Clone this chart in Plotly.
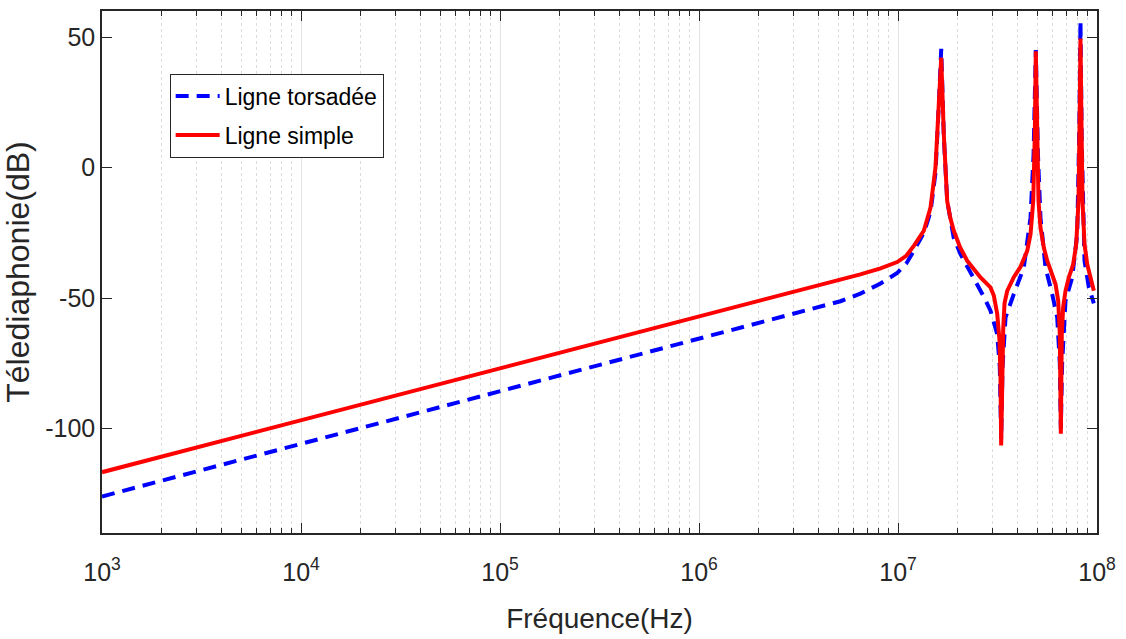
import plotly.graph_objects as go

# Ligne simple (red, solid)
freq_simple = [1e3, 1e4, 1e5, 1e6, 2.57e6, 4.08e6, 5.14e6, 6.47e6, 8.17e6, 9.91e6,
               1.10e7, 1.201e7, 1.348e7, 1.457e7, 1.543e7, 1.603e7, 1.649e7, 1.699e7, 1.767e7,
               1.835e7, 1.907e7, 2.05e7, 2.227e7, 2.598e7, 2.916e7, 3.030e7, 3.151e7, 3.236e7,
               3.273e7, 3.300e7, 3.339e7, 3.378e7, 3.430e7, 3.539e7, 3.818e7, 4.127e7,
               4.459e7, 4.634e7, 4.781e7, 4.870e7, 4.926e7, 4.984e7, 5.082e7, 5.20e7,
               5.405e7, 5.62e7, 5.955e7, 6.187e7, 6.383e7, 6.503e7, 6.58e7, 6.655e7, 6.76e7,
               6.946e7, 7.217e7, 7.594e7, 7.862e7, 8.074e7, 8.20e7, 8.26e7, 8.330e7,
               8.456e7, 8.655e7, 8.93e7, 9.276e7, 9.64e7]
db_simple = [-116.7, -96.9, -76.9, -57.1, -48.9, -44.9, -42.9, -40.9, -38.6, -36.2,
             -33.8, -30.0, -24.2, -15.3, 0.0, 25.5, 42.1, 12.7, -12.8,
             -19.5, -24.2, -30.5, -35.7, -42.1, -45.9, -49.0, -56.0, -66.0,
             -80.0, -106.5, -78.0, -62.0, -52.0, -47.2, -42.0, -38.0,
             -31.9, -25.5, -12.8, 12.7, 44.6, 12.7, -12.8, -23.0,
             -30.6, -35.7, -40.8, -44.6, -51.0, -63.8, -102.0, -63.8, -53.6,
             -47.2, -42.1, -37.0, -29.4, -12.8, 25.5, 49.5, 25.5,
             -12.8, -29.4, -37.0, -42.1, -47.2]

# Ligne torsadée (blue, dashed)
freq_torsadee = [1e3, 1e4, 1e5, 1e6, 2.57e6, 4.08e6, 5.14e6, 6.47e6, 8.17e6, 9.91e6,
                 1.10e7, 1.201e7, 1.348e7, 1.457e7, 1.543e7, 1.603e7, 1.649e7, 1.699e7, 1.767e7,
                 1.907e7, 2.061e7, 2.269e7, 2.500e7, 2.700e7, 2.916e7, 3.151e7, 3.248e7,
                 3.300e7, 3.351e7, 3.470e7, 3.818e7, 4.287e7, 4.634e7, 4.800e7, 4.926e7,
                 5.050e7, 5.20e7, 5.512e7, 5.955e7, 6.310e7, 6.503e7, 6.58e7, 6.68e7,
                 6.946e7, 7.506e7, 7.953e7, 8.15e7, 8.26e7, 8.38e7, 8.655e7, 9.096e7,
                 9.461e7, 9.64e7]
db_torsadee = [-126.0, -105.8, -85.8, -65.6, -57.3, -53.4, -51.2, -48.3, -44.4, -40.4,
               -36.8, -31.9, -25.0, -17.0, -2.0, 24.0, 45.5, 12.0, -12.8,
               -27.0, -33.2, -39.0, -44.6, -49.5, -54.8, -63.8, -76.5,
               -104.0, -76.5, -57.4, -48.5, -38.3, -19.1, 5.0, 45.0,
               5.0, -19.1, -38.3, -48.5, -57.4, -75.0, -100.0, -75.0,
               -51.0, -42.1, -25.5, 15.0, 56.1, 10.0, -35.7, -45.9,
               -51.0, -52.0]

x_tickvals = [1e3, 1e4, 1e5, 1e6, 1e7, 1e8]
x_ticktext = ["10<sup>3</sup>", "10<sup>4</sup>", "10<sup>5</sup>", "10<sup>6</sup>",
              "10<sup>7</sup>", "10<sup>8</sup>"]
y_tickvals = [-100, -50, 0, 50]
y_ticktext = ["-100", "-50", "0", "50"]

FONT = "Liberation Sans, Arial, sans-serif"
AX = "#262626"

fig = go.Figure()
fig.add_trace(go.Scatter(x=freq_torsadee, y=db_torsadee, mode="lines",
                         name="Ligne torsadée", legendgroup="a",
                         line=dict(color="#0000ff", width=4, dash="13px,8px")))
fig.add_trace(go.Scatter(x=freq_simple, y=db_simple, mode="lines",
                         name="Ligne simple", legendgroup="b",
                         line=dict(color="#ff0000", width=4)))

fig.update_layout(
    width=1126, height=639,
    margin=dict(l=101, r=29, t=9, b=106),
    paper_bgcolor="white", plot_bgcolor="white",
    font=dict(family=FONT, color=AX),
    showlegend=True,
    legend=dict(x=0.068, y=0.88, xanchor="left", yanchor="top",
                bgcolor="white", bordercolor=AX, borderwidth=1,
                font=dict(size=23, color="black", family=FONT),
                tracegroupgap=6, itemwidth=44),
)
fig.update_xaxes(
    type="log", range=[3, 8],
    tickvals=x_tickvals, ticktext=x_ticktext,
    tickfont=dict(size=25, color=AX),
    ticks="inside", ticklen=10, tickwidth=1.3, tickcolor=AX,
    ticklabelstandoff=16,
    showline=True, linecolor=AX, linewidth=1.5, mirror="ticks",
    showgrid=True, gridcolor="#e3e3e3", gridwidth=1,
    minor=dict(ticks="inside", ticklen=5, tickcolor=AX, tickwidth=1,
               showgrid=True, gridcolor="#dcdcdc", griddash="dot", gridwidth=1,
               dtick="D1"),
    zeroline=False,
    title=dict(text="Fréquence(Hz)", font=dict(size=28, color=AX), standoff=24),
)
fig.update_yaxes(
    range=[-140, 60],
    tickvals=y_tickvals, ticktext=y_ticktext,
    tickfont=dict(size=25, color=AX),
    ticks="inside", ticklen=10, tickwidth=1.3, tickcolor=AX,
    showline=True, linecolor=AX, linewidth=1.5, mirror="ticks",
    showgrid=False, zeroline=False,
    title=dict(text="Télediaphonie(dB)", font=dict(size=32, color=AX), standoff=14),
)

fig.write_html("out.html")
